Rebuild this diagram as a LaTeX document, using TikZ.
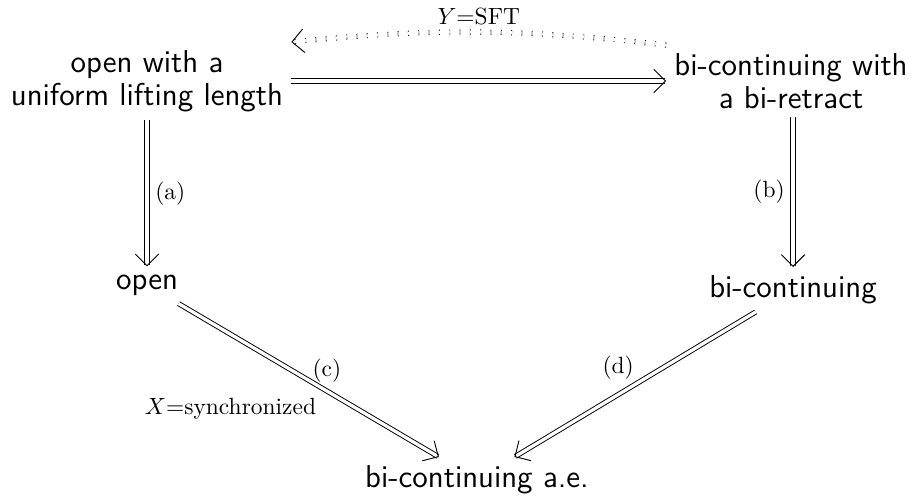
\documentclass[tikz,border=0pt]{standalone}
\usepackage{amsmath}
\usepackage{tikz}
\usetikzlibrary{arrows.meta}

\begin{document}
\begin{tikzpicture}[>={Straight Barb[length=5pt,width=10pt]},
    prop/.style={font=\sffamily\fontsize{13.5}{14.1}\selectfont,align=center},
    impl/.style={double,double distance=1.4pt,->},
    lbl/.style={font=\normalsize}]
      \useasboundingbox (0,0) rectangle (13.68,7.5);
      \node[prop] (ulift) at (2.205,6.285) {open with a\\uniform lifting length};
      \node[prop] (biret) at (11.865,6.285) {bi-continuing with\\a bi-retract};
      \node[prop] (open) at (2.205,3.225) {open};
      \node[prop] (bicont) at (11.895,3.1575) {bi-continuing};
      \node[prop] (biae) at (7.155,0.3075) {bi-continuing a.e.};
      \draw[impl] (ulift) -- (biret);
      \draw[impl,loosely dotted] (biret.north west) to[bend right=6] node[above=-0.5pt,lbl]{$Y$=SFT} (ulift.north east);
      \draw[impl] (ulift) -- (open) node[midway,right,lbl]{(a)};
      \draw[impl] (biret.south -| bicont) -- (bicont) node[midway,left,lbl]{(b)};
      \draw[impl] (open) -- (biae) node[pos=0.57,above,lbl]{(c)} node[pos=0.56,below left,lbl]{$X$=synchronized};
      \draw[impl] (bicont) -- (biae) node[pos=0.57,above=3pt,lbl]{(d)};
    \end{tikzpicture}
\end{document}
